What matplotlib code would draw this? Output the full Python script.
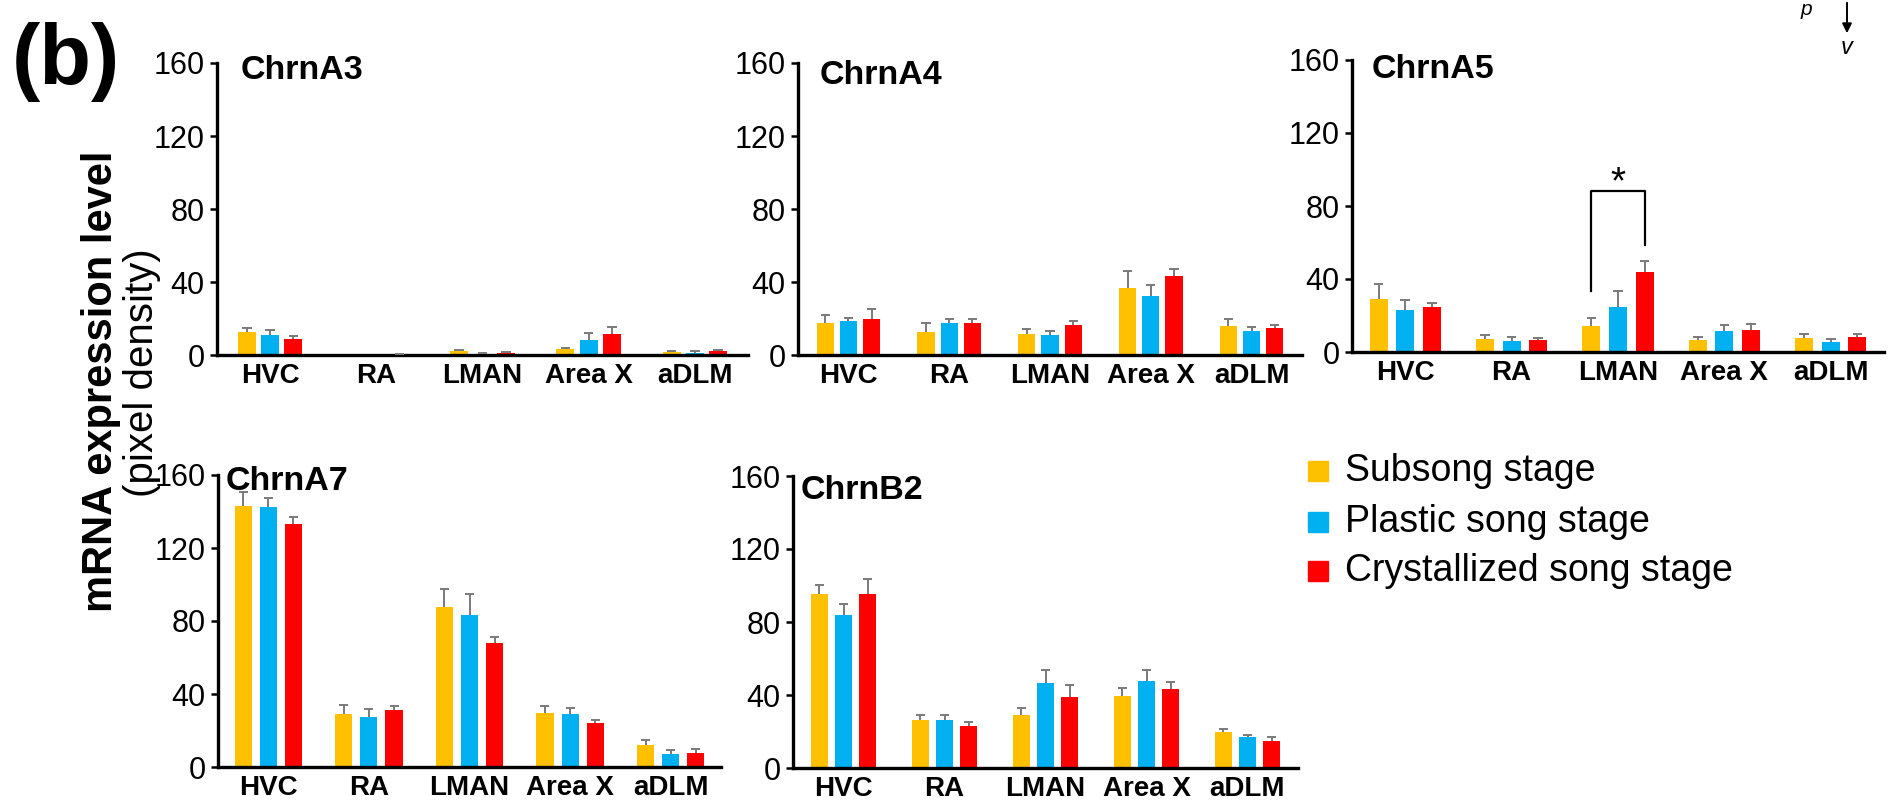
import numpy as np
import matplotlib
matplotlib.use("Agg")
import matplotlib.pyplot as plt

plt.rcParams['font.family'] = ['Liberation Sans', 'DejaVu Sans']

regions = ["HVC", "RA", "LMAN", "Area X", "aDLM"]
stages = ["Subsong stage", "Plastic song stage", "Crystallized song stage"]
stage_colors = ["#FFC000", "#00B0F0", "#FF0000"]

# mean pixel density per region, one list per stage: subsong, plastic, crystallized
chrna3_mean = [[12.4, 0.0, 2.0, 3.1, 1.5],
               [11.1, 0.0, 0.4, 8.0, 1.0],
               [8.7, 0.4, 1.1, 11.6, 2.2]]
chrna3_sem = [[2.3, 0.0, 0.7, 0.5, 0.7],
              [2.4, 0.0, 0.8, 3.8, 1.0],
              [1.7, 0.2, 0.3, 4.0, 0.5]]

chrna4_mean = [[17.3, 12.7, 11.5, 36.7, 16.0],
               [18.7, 17.6, 10.9, 32.4, 13.1],
               [19.6, 17.6, 16.7, 43.5, 14.7]]
chrna4_sem = [[4.5, 4.6, 2.7, 9.1, 3.6],
              [1.8, 2.4, 2.0, 5.8, 2.0],
              [5.4, 2.0, 2.0, 3.4, 1.7]]

chrna5_mean = [[29.0, 7.1, 14.2, 6.4, 7.9],
               [22.8, 6.0, 24.7, 11.3, 5.5],
               [24.8, 6.8, 43.8, 12.1, 8.4]]
chrna5_sem = [[8.3, 2.0, 4.4, 2.0, 2.0],
              [5.9, 2.0, 8.7, 3.7, 1.6],
              [2.0, 1.1, 6.2, 3.4, 1.3]]

chrna7_mean = [[143.2, 28.8, 87.8, 29.7, 11.9],
               [142.5, 27.5, 83.1, 29.2, 7.1],
               [133.0, 31.3, 67.8, 23.9, 7.9]]
chrna7_sem = [[7.5, 5.1, 9.5, 3.6, 3.1],
              [4.7, 4.2, 11.8, 2.9, 2.0],
              [4.0, 2.0, 3.3, 2.0, 1.8]]

chrnb2_mean = [[95.5, 26.3, 29.2, 39.5, 19.7],
               [83.8, 26.3, 46.4, 47.7, 17.0],
               [95.5, 23.0, 38.9, 43.1, 14.8]]
chrnb2_sem = [[4.8, 2.6, 3.7, 4.3, 1.9],
              [6.2, 2.9, 7.1, 5.8, 1.3],
              [7.9, 2.4, 6.8, 4.0, 2.0]]

y_ticks = [0, 40, 80, 120, 160]

# significance bracket in ChrnA5: LMAN subsong vs crystallized
sig_region = "LMAN"
sig_left_base, sig_right_base, sig_top, sig_label = 33.6, 58.8, 88.0, "*"

fig = plt.figure(figsize=(18.89, 8.05), dpi=100)
W, H = 1889.0, 805.0


def px_axes(x0, x1, ytop, ybot):
    return fig.add_axes([x0 / W, 1 - ybot / H, (x1 - x0) / W, (ybot - ytop) / H])


panels = [
    ("ChrnA3", chrna3_mean, chrna3_sem, (217, 748, 63, 355), 0.22, (0.045, 0.975)),
    ("ChrnA4", chrna4_mean, chrna4_sem, (798, 1302, 63, 355), 0.23, (0.042, 0.958)),
    ("ChrnA5", chrna5_mean, chrna5_sem, (1352, 1884, 60, 352), 0.25, (0.036, 0.968)),
    ("ChrnA7", chrna7_mean, chrna7_sem, (218, 721, 475, 767), 0.25, (0.016, 0.978)),
    ("ChrnB2", chrnb2_mean, chrnb2_sem, (793, 1298, 476, 768), 0.24, (0.016, 0.952)),
]

bar_w = 0.17
cap_half = 0.045
x = np.arange(len(regions))
axes = {}
for name, means, sems, box, step, title_xy in panels:
    ax = px_axes(*box)
    axes[name] = ax
    for k in range(3):
        xs = x + (k - 1) * step
        m = np.array(means[k])
        e = np.array(sems[k])
        ax.bar(xs, m, width=bar_w, color=stage_colors[k], zorder=2)
        top = m + e
        show = e > 0
        ax.vlines(xs[show], m[show], top[show], color="#7a7a7a", lw=1.4, zorder=3)
        ax.hlines(top[show], xs[show] - cap_half, xs[show] + cap_half,
                  color="#7a7a7a", lw=1.4, zorder=3)
    ax.set_xlim(-0.5, len(regions) - 0.5)
    ax.set_ylim(0, 160)
    ax.set_yticks(y_ticks)
    ax.set_yticklabels([str(t) for t in y_ticks], fontsize=22)
    ax.set_xticks(x)
    ax.set_xticklabels(regions, fontsize=20, fontweight="bold")
    ax.tick_params(axis="x", length=0, pad=6)
    ax.tick_params(axis="y", length=5, width=1.8, pad=4)
    for s in ["top", "right"]:
        ax.spines[s].set_visible(False)
    for s in ["left", "bottom"]:
        ax.spines[s].set_linewidth(2.4)
    ax.text(title_xy[0], title_xy[1], name, transform=ax.transAxes,
            fontsize=24.5, fontweight="bold", ha="left", va="center", clip_on=False)

# significance bracket
ax5 = axes["ChrnA5"]
i = regions.index(sig_region)
xl, xr = i - 0.25, i + 0.25
ax5.plot([xl, xl, xr, xr], [sig_left_base, sig_top, sig_top, sig_right_base],
         color="black", lw=1.6, zorder=4)
ax5.text(i, sig_top - 5.5, sig_label, ha="center", va="bottom", fontsize=28)

# shared y label
fig.text(0.0535, 0.527, "mRNA expression level", rotation=90, ha="center", va="center",
         fontsize=30, fontweight="bold")
fig.text(0.0752, 0.537, "(pixel density)", rotation=90, ha="center", va="center",
         fontsize=29)

# panel letter
fig.text(12 / W, 1 - 84 / H, "(b)", fontsize=61, fontweight="bold", ha="left",
         va="baseline")

# legend
leg_y = [471, 522, 571]
for k in range(3):
    fig.patches.append(matplotlib.patches.Rectangle(
        (1308 / W, 1 - (leg_y[k] + 10) / H), 20 / W, 20 / H,
        transform=fig.transFigure, color=stage_colors[k], figure=fig))
    fig.text(1345 / W, 1 - leg_y[k] / H, stages[k], fontsize=27, ha="left", va="center")

# orientation marker at the top edge
fig.add_artist(matplotlib.patches.FancyArrowPatch(
    (1847 / W, 1.0), (1847 / W, 1 - 36 / H), transform=fig.transFigure,
    arrowstyle="-|>", mutation_scale=14, lw=1.4, color="black"))
fig.text(1847 / W, 1 - 47 / H, "v", fontsize=17, style="italic", ha="center", va="center")
fig.text(1806 / W, 1.0, "p", fontsize=15, style="italic", ha="center", va="top")

fig.savefig("out.png", dpi=100)
